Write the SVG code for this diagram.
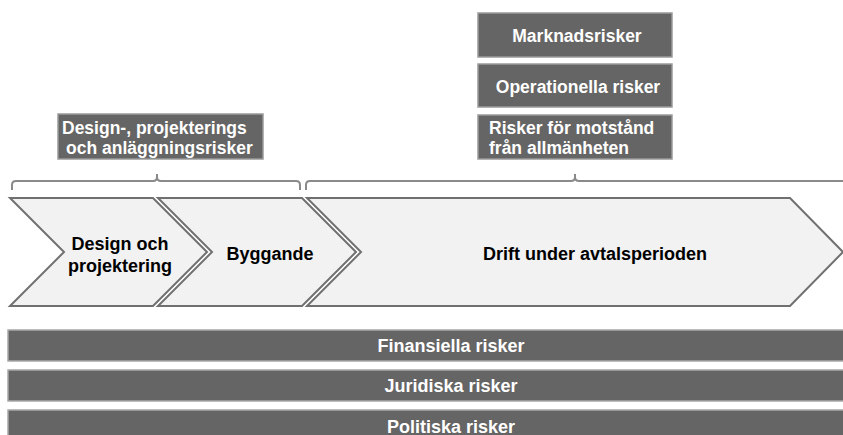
<svg xmlns="http://www.w3.org/2000/svg" width="843" height="435" viewBox="0 0 843 435">
  <style>
    .box { fill: #656565; stroke: #9a9a9a; stroke-width: 1.5; }
    .bar { fill: #656565; stroke: #a8a8a8; stroke-width: 1.5; }
    .chev { fill: #f2f2f2; stroke: #707070; stroke-width: 2; stroke-linejoin: miter; }
    .brace { fill: none; stroke: #8a8a8a; stroke-width: 2; }
    .wt { font-family: "Liberation Sans", Arial, sans-serif; font-weight: bold; font-size: 17.5px; fill: #ffffff; }
    .bt { font-family: "Liberation Sans", Arial, sans-serif; font-weight: bold; font-size: 18px; fill: #000000; }
    .bw { font-family: "Liberation Sans", Arial, sans-serif; font-weight: bold; font-size: 18px; fill: #ffffff; }
    .mid { text-anchor: middle; }
  </style>

  <!-- Risk boxes above the operating phase -->
  <g id="marknadsrisker">
    <rect class="box" x="478" y="13" width="194" height="44"/>
    <text class="wt mid" x="577" y="42">Marknadsrisker</text>
  </g>
  <g id="operationella-risker">
    <rect class="box" x="478" y="64" width="194" height="43"/>
    <text class="wt mid" x="578" y="93">Operationella risker</text>
  </g>
  <g id="motstand-risker">
    <rect class="box" x="478" y="115" width="194" height="44"/>
    <text class="wt" x="489" y="134">Risker för motstånd</text>
    <text class="wt" x="489" y="154">från allmänheten</text>
  </g>

  <!-- Risk box above design and construction -->
  <g id="design-risker">
    <rect class="box" x="58" y="114" width="205" height="45"/>
    <text class="wt" x="62" y="134">Design-, projekterings</text>
    <text class="wt" x="66" y="154">och anläggningsrisker</text>
  </g>

  <!-- Braces grouping the phases -->
  <g id="connectors">
    <path class="brace" d="M12,190 V185 Q12,181 16,181 H153 Q157,181 157,177 V174 M157,177 Q157,181 161,181 H296 Q300,181 300,185 V190"/>
    <path class="brace" d="M306,190 V185 Q306,181 310,181 H571 Q575,181 575,177 V174 M575,177 Q575,181 579,181 H845"/>
  </g>

  <!-- Phase chevrons -->
  <g id="design-och-projektering">
    <polygon class="chev" points="10,198 153,198 207,252 153,306 10,306 64,252"/>
    <text class="bt mid" x="120" y="250">Design och</text>
    <text class="bt mid" x="120" y="272">projektering</text>
  </g>
  <g id="byggande">
    <polygon class="chev" points="158,198 302,198 356,252 302,306 158,306 212,252"/>
    <text class="bt mid" x="270" y="260">Byggande</text>
  </g>
  <g id="drift">
    <polygon class="chev" points="307,198 790,198 843,252 790,306 307,306 361,252"/>
    <text class="bt mid" x="595" y="260">Drift under avtalsperioden</text>
  </g>

  <!-- Risks spanning the whole lifecycle -->
  <g id="finansiella-risker">
    <rect class="bar" x="8" y="330" width="850" height="31"/>
    <text class="bw mid" x="451" y="352">Finansiella risker</text>
  </g>
  <g id="juridiska-risker">
    <rect class="bar" x="8" y="370" width="850" height="31"/>
    <text class="bw mid" x="451" y="392">Juridiska risker</text>
  </g>
  <g id="politiska-risker">
    <rect class="bar" x="8" y="410" width="850" height="35"/>
    <text class="bw mid" x="451" y="433">Politiska risker</text>
  </g>
</svg>
